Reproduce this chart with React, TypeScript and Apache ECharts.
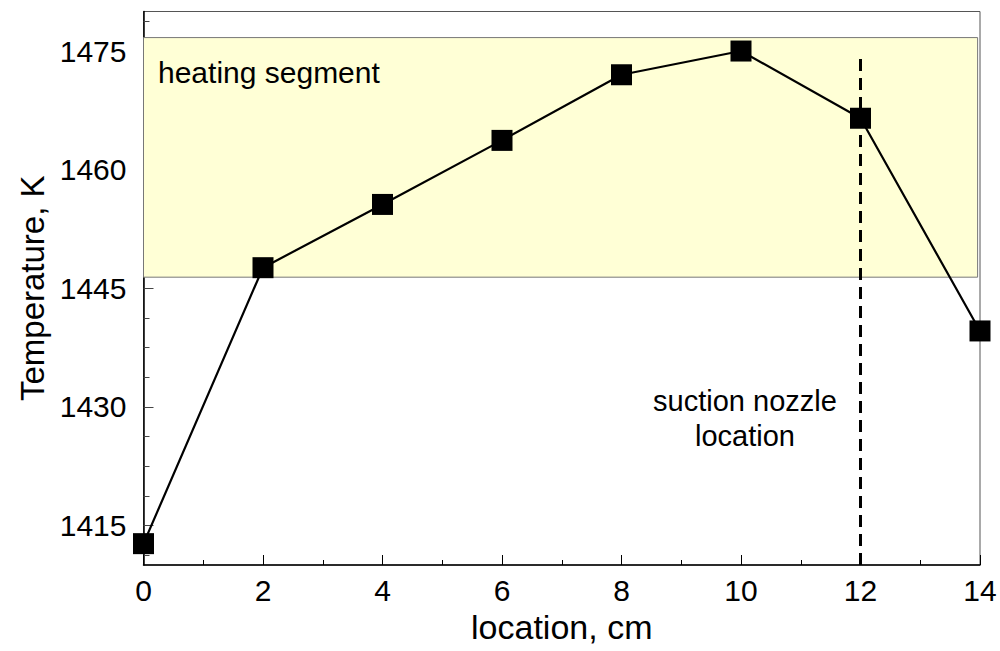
import React, { useEffect, useRef } from "react";
import * as echarts from "echarts";

// Measured temperature along the heater
const locations = [0, 2, 4, 6, 8, 10, 12, 14];
const temperatures = [1412.7, 1447.6, 1455.6, 1463.7, 1472.0, 1475.0, 1466.5, 1439.6];

// Axis ranges and labelled ticks
const xRange = [0, 14];
const yRange = [1410, 1480];
const yMajorTicks = [1415, 1430, 1445, 1460, 1475];

// Shaded heating segment (x from..to, temperature from..to)
const heatingX = [0, 13.96];
const heatingY = [1446.4, 1476.7];
const heatingLabel = "heating segment";

// Suction nozzle marker line
const nozzleX = 12;
const nozzleTop = 1474.5;
const nozzleLabel = ["suction nozzle", "location"];

const FONT = "'Liberation Sans', Arial, Helvetica, sans-serif";

// Minor y ticks: four sub-divisions between labelled ticks
const yStep = yMajorTicks[1] - yMajorTicks[0];
const yMinorTicks: number[] = [];
for (let v = yMajorTicks[0] - yStep; v <= yRange[1]; v += yStep / 4) {
  if (v >= yRange[0] && v <= yRange[1] && !yMajorTicks.includes(v)) yMinorTicks.push(v);
}

export default function App() {
  const ref = useRef<HTMLDivElement>(null);

  useEffect(() => {
    if (!ref.current) return;
    const chart = echarts.init(ref.current, undefined, { renderer: "svg" });

    const option: any = {
      animation: false,
      backgroundColor: "#ffffff",
      textStyle: { fontFamily: FONT },
      grid: {
        left: 143.5,
        right: 20,
        top: 11.5,
        bottom: 86,
        show: true,
        borderColor: "#555",
        borderWidth: 1,
        backgroundColor: "transparent",
      },
      xAxis: {
        type: "value",
        min: xRange[0],
        max: xRange[1],
        interval: 2,
        name: "location, cm",
        nameLocation: "middle",
        nameGap: 44,
        nameTextStyle: { fontSize: 34, color: "#000", fontFamily: FONT },
        axisLine: { show: true, onZero: false, lineStyle: { color: "#000", width: 1.5 } },
        axisTick: { show: true, inside: true, length: 10, lineStyle: { color: "#000", width: 1 } },
        minorTick: { show: true, splitNumber: 2, length: 5, lineStyle: { color: "#000", width: 1 } },
        axisLabel: {
          fontSize: 30,
          color: "#000",
          margin: 10,
          fontFamily: FONT,
          formatter: (v: number) => String(v),
        },
        splitLine: { show: false },
        minorSplitLine: { show: false },
      },
      yAxis: [
        {
          type: "value",
          min: yRange[0],
          max: yRange[1],
          interval: 5,
          position: "left",
          name: "Temperature, K",
          nameLocation: "middle",
          nameGap: 95,
          nameTextStyle: { fontSize: 33, color: "#000", fontFamily: FONT },
          axisLine: { show: true, onZero: false, lineStyle: { color: "#000", width: 1.5 } },
          axisTick: {
            show: true,
            inside: true,
            length: 10,
            customValues: yMajorTicks,
            lineStyle: { color: "#444", width: 1 },
          },
          axisLabel: {
            fontSize: 30,
            color: "#000",
            margin: 17,
            customValues: yMajorTicks,
            fontFamily: FONT,
            formatter: (v: number) => String(v),
          },
          splitLine: { show: false },
        },
        {
          type: "value",
          min: yRange[0],
          max: yRange[1],
          interval: 5,
          position: "left",
          axisLine: { show: false },
          axisTick: {
            show: true,
            inside: true,
            length: 6,
            customValues: yMinorTicks,
            lineStyle: { color: "#444", width: 1 },
          },
          axisLabel: { show: false },
          splitLine: { show: false },
        },
      ],
      series: [
        {
          type: "line",
          data: locations.map((x, i) => [x, temperatures[i]]),
          yAxisIndex: 0,
          clip: false,
          symbol: "rect",
          symbolSize: 21,
          itemStyle: { color: "#000" },
          lineStyle: { color: "#000", width: 2.2 },
          z: 5,
          markArea: {
            silent: true,
            itemStyle: { color: "#ffffd6", borderColor: "#777", borderWidth: 1 },
            data: [[{ coord: [heatingX[0], heatingY[1]] }, { coord: [heatingX[1], heatingY[0]] }]],
            z: 1,
          },
          markLine: {
            silent: true,
            symbol: ["none", "none"],
            label: { show: false },
            lineStyle: { color: "#000", width: 3, type: [12, 7] },
            data: [[{ coord: [nozzleX, yRange[0]] }, { coord: [nozzleX, nozzleTop] }]],
          },
        },
      ],
      graphic: [
        {
          type: "text",
          left: 158,
          top: 57,
          style: { text: heatingLabel, font: `30px ${FONT}`, fill: "#000" },
          z: 10,
        },
        {
          type: "text",
          x: 745,
          y: 418,
          style: {
            text: nozzleLabel.join("\n"),
            font: `29px ${FONT}`,
            fill: "#000",
            align: "center",
            verticalAlign: "middle",
            lineHeight: 35,
          },
          z: 10,
        },
      ],
    };

    chart.setOption(option);
    return () => chart.dispose();
  }, []);

  return (
    <div
      ref={ref}
      style={{ position: "fixed", left: 0, top: 0, width: 1000, height: 651, background: "#fff" }}
    />
  );
}
